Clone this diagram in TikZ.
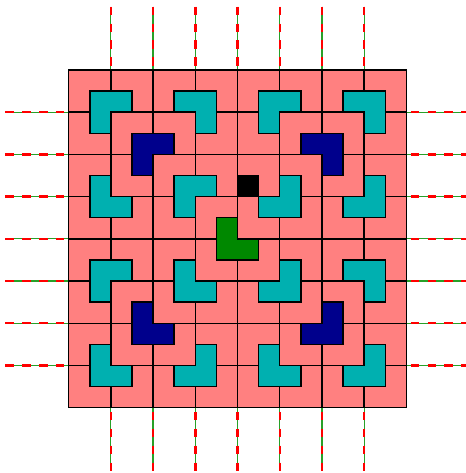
\documentclass[tikz,border=0pt]{standalone}
\usepackage{xcolor}
\usepackage{tikz}
\definecolor{boardpink}{RGB}{255,128,128}
\definecolor{tealL}{RGB}{0,176,176}
\definecolor{navyL}{RGB}{0,0,140}
\definecolor{greenL}{RGB}{0,136,0}
\definecolor{cutgreen}{RGB}{40,160,40}

% small L tromino round its corner point: x, y, turn, fill
\newcommand{\tromino}[4]{%
  \draw[small, fill=#4, shift={(#1,#2)}, rotate=#3, scale=0.5]
    (-1,-1) -- (1,-1) -- (1,0) -- (0,0) -- (0,1) -- (-1,1) -- cycle;}

\begin{document}
\begin{tikzpicture}[
  board/.style={draw=black, line width=1pt, fill=boardpink},
  small/.style={draw=black, line width=1pt},
  cutline/.style={cutgreen, line width=0.8pt},
  cutdash/.style={red, line width=1.6pt, dash pattern=on 0.2cm off 0.2cm},
]
  \useasboundingbox (-1.626,-1.546) rectangle (9.404,9.657);

  \foreach \k in {1,...,7} {
    \draw[cutline] (\k,9.5) -- (\k,-1.5);
    \draw[cutdash] (\k,9.5) -- (\k,-1.5);
    \draw[cutline] (-1.5,\k) -- (9.5,\k);
    \draw[cutdash] (-1.5,\k) -- (9.5,\k);
  }

  \draw[board] (0,0) rectangle (8,8);
  \draw[line width=1pt] (0,0) grid (8,8);

  \foreach \x/\y/\a/\c in {4/4/0/greenL,
      2/6/270/navyL, 6/6/180/navyL, 2/2/0/navyL, 6/2/90/navyL,
      1/7/270/tealL, 3/7/180/tealL, 1/5/0/tealL, 3/5/270/tealL,
      5/7/270/tealL, 7/7/180/tealL, 5/5/90/tealL, 7/5/90/tealL,
      1/3/270/tealL, 3/3/0/tealL, 1/1/0/tealL, 3/1/90/tealL,
      5/3/90/tealL, 7/3/180/tealL, 5/1/0/tealL, 7/1/90/tealL} {
    \tromino{\x}{\y}{\a}{\c}
  }

  % missing square
  \draw[small, fill=black] (4,5) rectangle (4.5,5.5);
\end{tikzpicture}
\end{document}
